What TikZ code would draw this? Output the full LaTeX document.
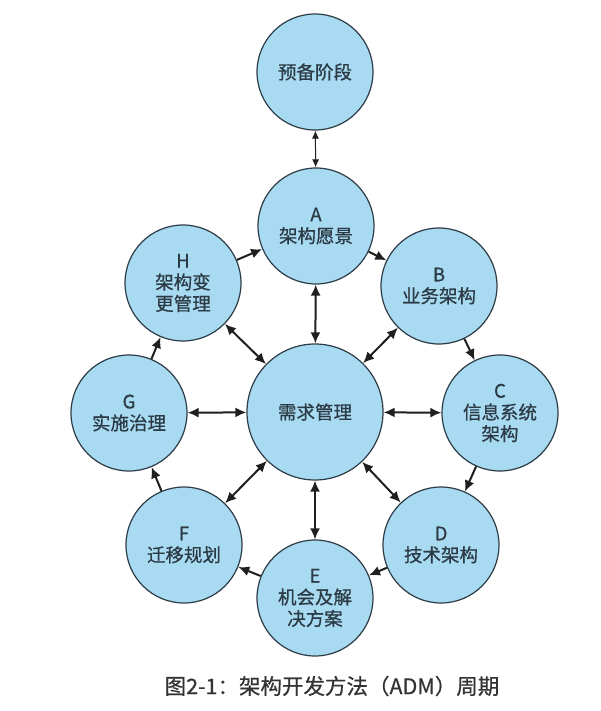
\documentclass[tikz,border=0pt]{standalone}
\usepackage{fontspec}
\newfontfamily\cjk[FakeBold=0.6]{Noto Sans CJK SC}
\usetikzlibrary{arrows.meta}
\definecolor{cfill}{HTML}{A8DAF2}
\definecolor{cedge}{HTML}{2E3C46}
\definecolor{ctext}{HTML}{2B3A44}
\definecolor{captext}{HTML}{333333}
\tikzset{
  phase/.style={circle, draw=cedge, line width=1.2pt, fill=cfill, inner sep=0pt,
    minimum size=116pt, align=center, text=ctext,
    font=\cjk\fontsize{18.5}{21.5}\selectfont},
  hub/.style={phase, minimum size=136pt},
  ringarrow/.style={-{Latex[length=11pt,width=10pt]}, line width=2pt, black!88},
  spoke/.style={{Latex[length=11pt,width=10pt]}-{Latex[length=11pt,width=10pt]}, line width=2pt, black!88},
  prepline/.style={{Latex[length=8pt,width=7pt]}-{Latex[length=8pt,width=7pt]}, line width=1pt, black!88},
}
\begin{document}
\begin{tikzpicture}[x=1pt,y=-1pt]
\useasboundingbox[fill=white] (0,0) rectangle (600,711);
\node[phase] (P) at (315,72) {预备阶段};
\node[phase] (A) at (316,226) {A\\架构愿景};
\node[phase] (B) at (439,286) {B\\业务架构};
\node[phase] (C) at (500,413) {C\\信息系统\\架构};
\node[phase] (D) at (441,545) {D\\技术架构};
\node[phase] (E) at (315,598) {E\\机会及解\\决方案};
\node[phase] (F) at (184,545) {F\\迁移规划};
\node[phase] (G) at (129,413) {G\\实施治理};
\node[phase] (H) at (183,283) {H\\架构变\\更管理};
\node[hub] (M) at (315,412) {需求管理};
\draw[prepline] (P) -- (A);
\draw[ringarrow] (A) -- (B);
\draw[ringarrow] (B) -- (C);
\draw[ringarrow] (C) -- (D);
\draw[ringarrow] (D) -- (E);
\draw[ringarrow] (E) -- (F);
\draw[ringarrow] (F) -- (G);
\draw[ringarrow] (G) -- (H);
\draw[ringarrow] (H) -- (A);
\foreach \n in {A,B,C,D,E,F,G,H} {\draw[spoke] (M) -- (\n);}
\node[text=captext, font=\cjk\fontsize{21.5}{24}\selectfont, inner sep=0pt] (cap) at (332,686) {图2-1：架构开发方法（ADM）周期};
\end{tikzpicture}
\end{document}
